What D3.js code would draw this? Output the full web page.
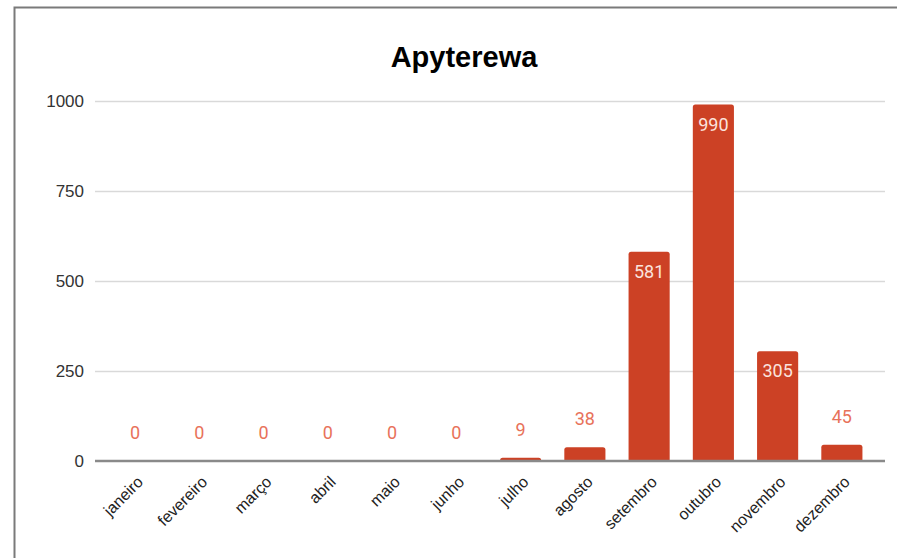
<!DOCTYPE html>
<html>
<head>
<meta charset="utf-8">
<script src="https://cdn.jsdelivr.net/npm/d3@7"></script>
<style>
  html, body { margin: 0; padding: 0; background: #fff; }
  svg { display: block; }
</style>
</head>
<body>
<svg id="chart" width="897" height="558"></svg>
<script>
const title = "Apyterewa";
const months = ["janeiro","fevereiro","março","abril","maio","junho","julho","agosto","setembro","outubro","novembro","dezembro"];
const values = [0, 0, 0, 0, 0, 0, 9, 38, 581, 990, 305, 45];
const yTicks = [0, 250, 500, 750, 1000];

const svg = d3.select("#chart");
const W = 897, H = 558;
svg.append("rect").attr("width", W).attr("height", H).attr("fill", "#fff");

// frame
svg.append("path")
  .attr("d", "M14.5,558 L14.5,7.5 L897,7.5")
  .attr("fill", "none").attr("stroke", "#7a7a7a").attr("stroke-width", 2);

const plotLeft = 95, plotRight = 885;
const x = d3.scaleBand().domain(months).range([103, 874]).paddingInner(0.36).paddingOuter(0.18);
const y = d3.scaleLinear().domain([0, 1000]).range([461, 101]);

// title
svg.append("text")
  .attr("x", 464).attr("y", 67)
  .attr("text-anchor", "middle")
  .attr("font-family", "Liberation Sans, Arial, sans-serif")
  .attr("font-weight", "bold").attr("font-size", 29)
  .attr("fill", "#000").text(title);

// gridlines + y labels via axis
const yAxis = d3.axisLeft(y).tickValues(yTicks).tickSize(0).tickPadding(11).tickFormat(d3.format("d"));
const yg = svg.append("g").attr("transform", `translate(${plotLeft},0)`).call(yAxis);
yg.select(".domain").remove();
yg.selectAll("text")
  .attr("font-family", "Liberation Sans, Arial, sans-serif")
  .attr("font-size", 17).attr("fill", "#333");
yg.selectAll(".tick").append("line")
  .attr("x1", 0).attr("x2", plotRight - plotLeft)
  .attr("stroke", d => d === 0 ? "none" : "#d9d9d9").attr("stroke-width", 1.5);

// bars
const bw = x.bandwidth();
svg.append("g").selectAll("path").data(values).join("path")
  .attr("fill", "#cc4125")
  .attr("d", (d, i) => {
    const x0 = x(months[i]), top = y(d), bot = y(0);
    const h = bot - top;
    if (h <= 0) return "";
    const r = Math.min(2.5, h);
    return `M${x0},${bot} L${x0},${top + r} Q${x0},${top} ${x0 + r},${top} L${x0 + bw - r},${top} Q${x0 + bw},${top} ${x0 + bw},${top + r} L${x0 + bw},${bot} Z`;
  });

// baseline
svg.append("line")
  .attr("x1", plotLeft).attr("x2", plotRight)
  .attr("y1", y(0)).attr("y2", y(0))
  .attr("stroke", "#8a8a8a").attr("stroke-width", 2.5);

// x axis labels
const xAxis = d3.axisBottom(x).tickSize(0).tickPadding(0);
const xg = svg.append("g").attr("transform", `translate(0,${y(0)})`).call(xAxis);
xg.select(".domain").remove();
xg.selectAll("text")
  .attr("font-family", "Liberation Sans, Arial, sans-serif")
  .attr("font-size", 16).attr("fill", "#222")
  .attr("text-anchor", "end")
  .attr("dy", 0).attr("y", 0)
  .attr("transform", "translate(9,22) rotate(-45)");

// value labels
const insideThreshold = 200;
svg.append("g").selectAll("text").data(values).join("text")
  .attr("x", (d, i) => x(months[i]) + bw / 2)
  .attr("y", d => d >= insideThreshold ? y(d) + 26 : y(d) - 22)
  .attr("text-anchor", "middle")
  .attr("font-family", "Roboto, Liberation Sans, Arial, sans-serif")
  .attr("font-size", 18)
  .attr("fill", d => d >= insideThreshold ? "#fbe3de" : "#e8725a")
  .text(d => d);
</script>
</body>
</html>
